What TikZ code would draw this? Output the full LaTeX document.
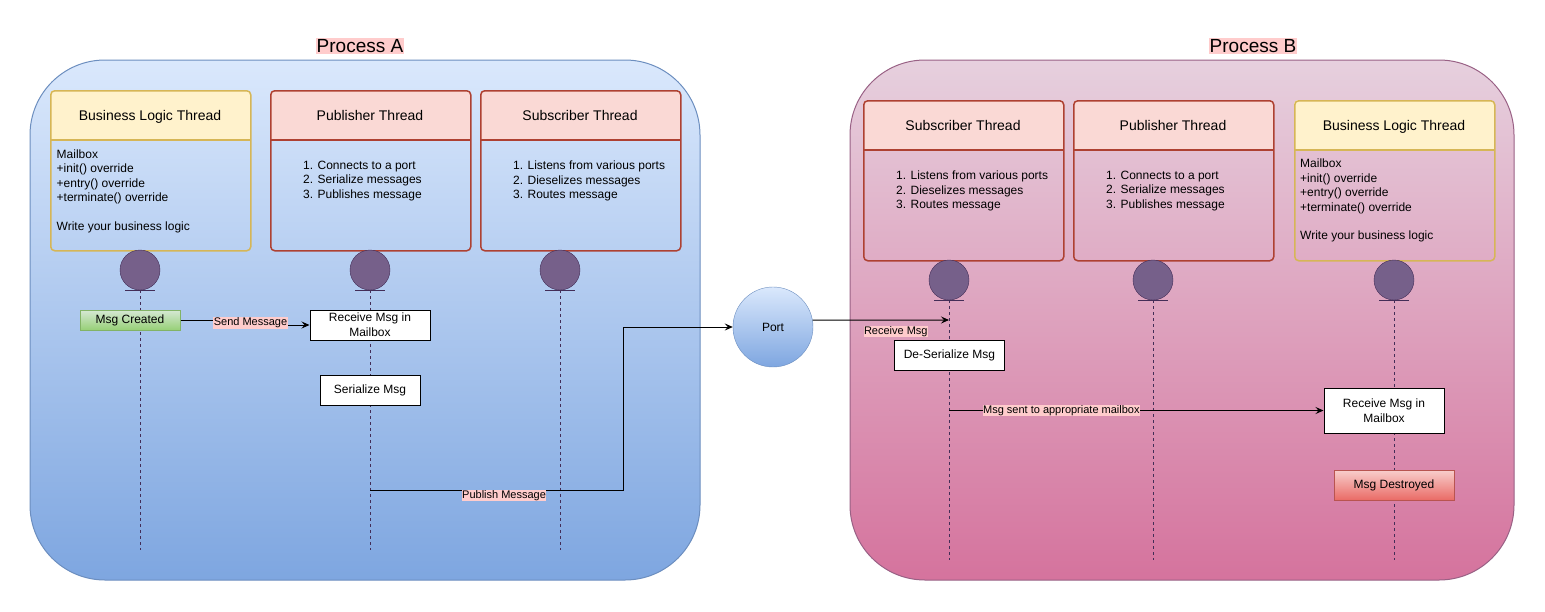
\documentclass[tikz,border=0pt]{standalone}
\usepackage{fontspec}
\setmainfont{Liberation Sans}
\usepackage{tikz}
\usetikzlibrary{arrows.meta,calc,positioning}

\definecolor{procAtop}{HTML}{DAE8FC}
\definecolor{procAbot}{HTML}{7EA6E0}
\definecolor{procAline}{HTML}{6C8EBF}
\definecolor{procBtop}{HTML}{E6D0DE}
\definecolor{procBbot}{HTML}{D5739D}
\definecolor{procBline}{HTML}{996185}
\definecolor{bizfill}{HTML}{FFF2CC}
\definecolor{bizline}{HTML}{D6B656}
\definecolor{thrfill}{HTML}{FAD9D5}
\definecolor{thrline}{HTML}{AE4132}
\definecolor{actorfill}{HTML}{76608A}
\definecolor{actorline}{HTML}{432D57}
\definecolor{labelbg}{HTML}{FFCCCC}
\definecolor{okfill}{HTML}{D5E8D4}
\definecolor{okfill2}{HTML}{97D077}
\definecolor{okline}{HTML}{82B366}
\definecolor{badfill}{HTML}{F8CECC}
\definecolor{badfill2}{HTML}{EA6B66}
\definecolor{badline}{HTML}{B85450}

\tikzset{
  procbox/.style={line width=1pt, rounded corners=75pt, minimum width=670pt, minimum height=520pt, inner sep=0pt},
  proclabel/.style={fill=labelbg, font=\fontsize{19}{22}\selectfont, inner sep=1pt},
  threadbox/.style={line width=1.5pt, rounded corners=4pt, minimum width=200pt, minimum height=160pt, inner sep=0pt, anchor=north west},
  threadtitle/.style={font=\fontsize{14}{16.8}\selectfont, text height=10pt, text depth=3pt},
  bodytext/.style={font=\fontsize{12}{14.4}\selectfont, align=left, inner sep=0pt, anchor=north west},
  actor/.style={circle, draw=actorline, fill=actorfill, minimum size=40pt, inner sep=0pt},
  lifeline/.style={actorline, dash pattern=on 3pt off 3pt},
  msgbox/.style={draw, fill=white, line width=1pt, font=\fontsize{12}{15}\selectfont, align=center, inner sep=0pt},
  lbl/.style={fill=labelbg, font=\fontsize{11}{13}\selectfont, inner sep=0.5pt, text height=8pt, text depth=2.5pt},
  arr/.style={line width=1pt, -{Stealth[length=8pt,width=7pt,inset=3pt]}},
}

% #1 name, #2 top left, #3 colour, #4 title, #5 body offset, #6 body
\newcommand{\thread}[6]{
  \fill[#3fill, rounded corners=4pt] (#2) rectangle ++(200,50);
  \fill[#3fill] ($(#2)+(0,25)$) rectangle ++(200,25);
  \node[threadbox, draw=#3line] (#1) at (#2) {};
  \draw[#3line, line width=1.5pt] ($(#2)+(0,50)$) -- ++(200,0);
  \node[threadtitle] (#1-title) at ($(#2)+(100,27)$) {#4};
  \node[bodytext] (#1-body) at ($(#2)+#5$) {#6};
}

\begin{document}
\begin{tikzpicture}[x=1pt,y=-1pt]
  \useasboundingbox (0,0) rectangle (1545,611);

  % processes
  \node[procbox, draw=procAline, top color=procAtop, bottom color=procAbot] (procA) at (365,320) {};
  \node[procbox, draw=procBline, top color=procBtop, bottom color=procBbot, minimum width=664pt] (procB) at (1182,320) {};
  \node[proclabel] (procA-label) at (360,46) {Process A};
  \node[proclabel] (procB-label) at (1253,46) {Process B};

  % threads
  \thread{blA}{50,90}{biz}{Business Logic Thread}{(6.5,59.5)}{Mailbox\\+init() override\\+entry() override\\+terminate() override\\[14.4pt]Write your business logic}
  \thread{pubA}{270,90}{thr}{Publisher Thread}{(33,71)}{1. Connects to a port\\2. Serialize messages\\3. Publishes message}
  \thread{subA}{480,90}{thr}{Subscriber Thread}{(33,71)}{1. Listens from various ports\\2. Dieselizes messages\\3. Routes message}
  \thread{subB}{863,100}{thr}{Subscriber Thread}{(33,71)}{1. Listens from various ports\\2. Dieselizes messages\\3. Routes message}
  \thread{pubB}{1073,100}{thr}{Publisher Thread}{(33,71)}{1. Connects to a port\\2. Serialize messages\\3. Publishes message}
  \thread{blB}{1294,100}{biz}{Business Logic Thread}{(6,59)}{Mailbox\\+init() override\\+entry() override\\+terminate() override\\[14.4pt]Write your business logic}

  % lifelines
  \foreach \who/\x/\y/\e in {blA/140/270/550, pubA/370/270/550, subA/560/270/550,
                             subB/949/280/560, pubB/1153/280/560, blB/1394/280/560} {
    \node[actor] (\who-actor) at (\x,\y) {};
    \draw[actorline] (\x-15,\y+20) -- (\x+15,\y+20);
    \draw[lifeline] (\who-actor.south) -- (\x,\e);
  }
  \coordinate (pubA-pub) at (370,490);
  \coordinate (subB-recv) at (949,320);
  \coordinate (subB-route) at (949,410.5);

  % messages
  \node[msgbox, fill=none, top color=okfill, bottom color=okfill2, draw=okline, minimum width=100pt, minimum height=20pt] (created) at (130,320) {Msg Created};
  \node[msgbox, minimum width=120pt, minimum height=30pt] (recvA) at (370,325) {Receive Msg in\\Mailbox};
  \node[msgbox, minimum width=100pt, minimum height=30pt] (serA) at (370,390) {Serialize Msg};
  \node[circle, draw=procAline, top color=procAtop, bottom color=procAbot, minimum size=80pt, inner sep=0pt, font=\fontsize{12}{14}\selectfont] (port) at (773,327) {Port};
  \node[msgbox, minimum width=110pt, minimum height=30pt] (deserB) at (949.5,355) {De-Serialize Msg};
  \node[msgbox, minimum width=120pt, minimum height=45pt] (recvB) at (1384,410.5) {Receive Msg in\\Mailbox};
  \node[msgbox, top color=badfill, bottom color=badfill2, draw=badline, minimum width=120pt, minimum height=30pt] (destroyed) at (1394,485) {Msg Destroyed};

  \draw[arr] (created.east) -- ++(70,0) node[lbl, yshift=-3pt] (send-label) {Send Message} |- (recvA.west);
  \draw[arr] (pubA-pub) -- node[lbl, pos=0.53, yshift=-5.5pt] (pub-label) {Publish Message} ++(253,0) |- (port.west);
  \draw[arr] (port.10) -- node[lbl, pos=0.61, anchor=north, yshift=-5pt] (recv-label) {Receive Msg} (subB-recv);
  \draw[arr] (subB-route) -- node[lbl, pos=0.3] (route-label) {Msg sent to appropriate mailbox} (recvB.west);
\end{tikzpicture}
\end{document}
